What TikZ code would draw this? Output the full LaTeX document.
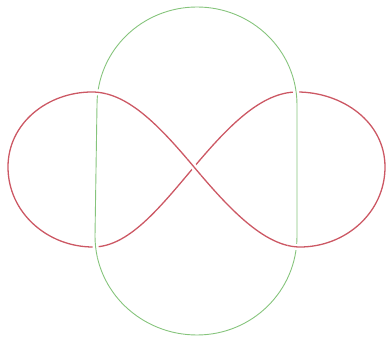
\documentclass[tikz,border=0pt]{standalone}
\usetikzlibrary{calc}

\begin{document}
\begin{tikzpicture}[x=1pt,y=1pt,line cap=round]
\definecolor{figureeight}{RGB}{204,88,100}
\definecolor{stadium}{RGB}{134,196,124}
\tikzset{
  redstrand/.style={figureeight,line width=1.3pt},
  greenstrand/.style={stadium,line width=0.9pt},
  halo/.style={white,line width=6pt}
}
\useasboundingbox (0,0) rectangle (386,337);

% Figure-eight curve: centre crossing and the extremes of both lobes.
\coordinate (C) at (194,170);
\coordinate (LT) at (92,245);
\coordinate (LL) at (8,170);
\coordinate (LB) at (93,90);
\coordinate (RT) at (297,245);
\coordinate (RR) at (385,170);
\coordinate (RB) at (300,90);
\def\eightpath{(C) .. controls +(130:55) and +(0:35) .. (LT)
  to[out=180,in=90] (LL) to[out=-90,in=180] (LB)
  .. controls +(0:35) and +(-130:55) .. (C)
  .. controls +(50:55) and +(180:35) .. (RT)
  to[out=0,in=90] (RR) to[out=-90,in=0] (RB)
  .. controls +(180:35) and +(-50:55) .. (C)}

% Stadium: two half circles joined by nearly straight sides.
\coordinate (GT) at (197,330);
\coordinate (GLT) at (97,232);
\coordinate (GLB) at (95,101);
\coordinate (GB) at (197,2);
\coordinate (GRB) at (297,101);
\coordinate (GRT) at (297,232);
\def\ovalpath{(GLT) to[out=90,in=180] (GT) to[out=0,in=90] (GRT)
  -- (GRB) to[out=-90,in=0] (GB) to[out=180,in=-90] (GLB) -- cycle}

\draw[greenstrand] \ovalpath;
\draw[redstrand] \eightpath;

% Over-strands at each crossing.
\foreach \pt in {(96,245),(298,90)}{
  \begin{scope}
    \clip \pt circle (11);
    \draw[halo] \eightpath;
    \draw[redstrand] \eightpath;
  \end{scope}
}
\foreach \pt in {(297,245),(95,90)}{
  \begin{scope}
    \clip \pt circle (11);
    \draw[halo] \ovalpath;
    \draw[greenstrand] \ovalpath;
  \end{scope}
}
\begin{scope}
  \clip (C) circle (11);
  \draw[halo] (RB) .. controls +(180:35) and +(-50:55) .. (C)
    .. controls +(130:55) and +(0:35) .. (LT);
  \draw[redstrand] (RB) .. controls +(180:35) and +(-50:55) .. (C)
    .. controls +(130:55) and +(0:35) .. (LT);
\end{scope}
\end{tikzpicture}
\end{document}
